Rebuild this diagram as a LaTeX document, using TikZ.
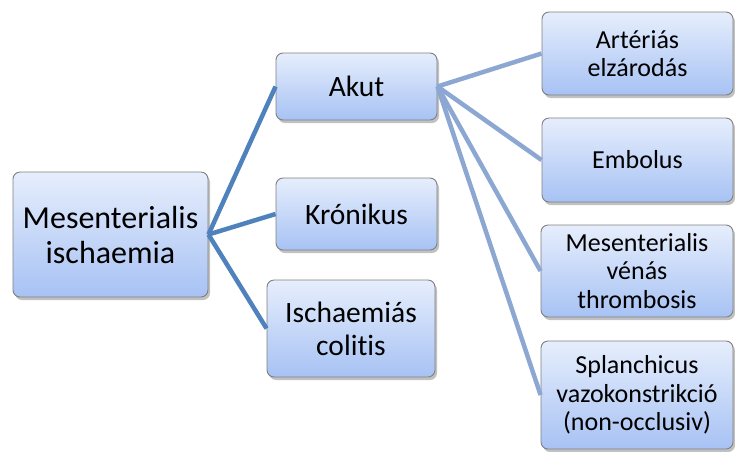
\documentclass[tikz,border=0pt]{standalone}
\usepackage{fontspec}
\setmainfont{Carlito}[Ligatures=NoCommon]
\usetikzlibrary{shadows}
\definecolor{boxtop}{HTML}{E6EEFC}
\definecolor{boxbot}{HTML}{A7C2F4}
\definecolor{boxline}{HTML}{7F7F7F}
\definecolor{linkA}{HTML}{4F81BD}
\definecolor{linkB}{HTML}{8CA8D2}
\tikzset{
  box/.style={draw=boxline, line width=0.9pt, rounded corners=7pt,
    top color=boxtop, bottom color=boxbot, align=center, inner sep=0pt,
    drop shadow={shadow xshift=2pt, shadow yshift=-3pt, opacity=0.35, fill=black!70}},
  rootbox/.style={box, font=\fontsize{32}{35}\selectfont},
  bigbox/.style={box, font=\fontsize{29.5}{33}\selectfont},
  smallbox/.style={box, font=\fontsize{26}{28.5}\selectfont},
  linkone/.style={draw=linkA, line width=4.5pt},
  linktwo/.style={draw=linkB, line width=4.5pt},
}
\begin{document}
\begin{tikzpicture}[x=1pt,y=-1pt]
\useasboundingbox (0,0) rectangle (735,451);
\node[rootbox, minimum width=195pt, minimum height=125pt] (root) at (110.5,234.5) {Mesenterialis\\ischaemia};
\node[bigbox, minimum width=161pt, minimum height=67pt] (akut) at (356.5,86.5) {Akut};
\node[bigbox, minimum width=161pt, minimum height=72pt] (kron) at (356.5,214) {Krónikus};
\node[bigbox, minimum width=168pt, minimum height=97pt] (isch) at (351,328.5) {Ischaemiás\\colitis};
\node[smallbox, minimum width=191pt, minimum height=83pt] (art) at (637.5,53.5) {Artériás\\elzárodás};
\node[smallbox, minimum width=191pt, minimum height=84pt] (emb) at (637.5,160) {Embolus};
\node[smallbox, minimum width=192pt, minimum height=92pt] (mes) at (637,271) {Mesenterialis\\vénás\\thrombosis};
\node[smallbox, minimum width=192pt, minimum height=108pt] (spl) at (637,395) {Splanchicus\\vazokonstrikció\\(non-occlusiv)};
\draw[linkone] (root.east) -- (akut.west);
\draw[linkone] (root.east) -- (kron.west);
\draw[linkone] (root.east) -- (isch.west);
\draw[linktwo] (akut.east) -- (art.west);
\draw[linktwo] (akut.east) -- (emb.west);
\draw[linktwo] (akut.east) -- (mes.west);
\draw[linktwo] (akut.east) -- (spl.west);
\end{tikzpicture}
\end{document}
